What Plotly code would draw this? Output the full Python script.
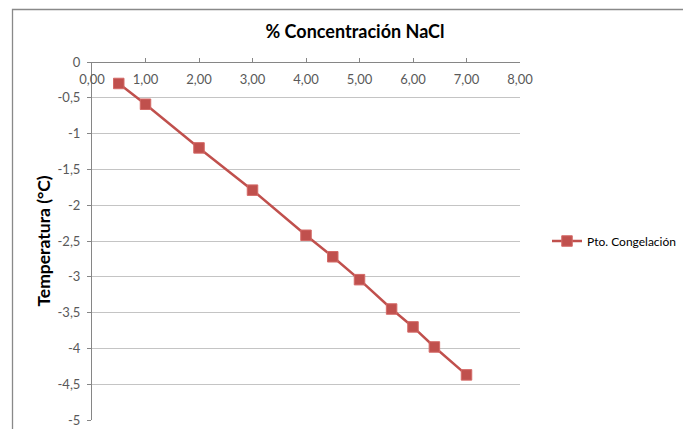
import plotly.graph_objects as go

# Concentración de NaCl (%) y punto de congelación (°C)
concentracion = [0.5, 1.0, 2.0, 3.0, 4.0, 4.5, 5.0, 5.6, 6.0, 6.4, 7.0]
pto_congelacion = [-0.30, -0.59, -1.20, -1.79, -2.42, -2.72, -3.04, -3.45, -3.70, -3.98, -4.37]

x_ticks = [0, 1, 2, 3, 4, 5, 6, 7, 8]
y_ticks = [0, -0.5, -1, -1.5, -2, -2.5, -3, -3.5, -4, -4.5, -5]
y_ticktext = ["0", "-0,5", "-1", "-1,5", "-2", "-2,5", "-3", "-3,5", "-4", "-4,5", "-5"]

ROJO = "#C0504D"
EJE = "#868686"
FONT = "Lato, 'Open Sans', sans-serif"

W, H = 683, 429
L, R, T, B = 92, 163, 62, 9
pw, ph = W - L - R, H - T - B


def px_to_paper(px, py):
    return (px - L) / pw, (H - B - py) / ph


fig = go.Figure()
fig.add_trace(go.Scatter(
    x=concentracion, y=pto_congelacion,
    mode="lines+markers",
    name="Pto. Congelación",
    line=dict(color=ROJO, width=2.5),
    marker=dict(symbol="square", size=10.5, color=ROJO,
                line=dict(color="#D46A67", width=1)),
))

# marco exterior del gráfico (borde superior e izquierdo visibles)
x0, y1 = px_to_paper(12.5, 9.5)
x1, y0 = px_to_paper(720, 460)
fig.add_shape(type="rect", xref="paper", yref="paper",
              x0=x0, x1=x1, y0=y0, y1=y1,
              line=dict(color="#898989", width=1.3), layer="below")

fig.update_layout(
    width=W, height=H,
    margin=dict(l=L, r=R, t=T, b=B, autoexpand=False),
    paper_bgcolor="white", plot_bgcolor="white",
    separators=",.",
    font=dict(family=FONT, color="#404040", size=13),
    title=dict(text="<b>% Concentración NaCl</b>",
               font=dict(family=FONT, size=18, color="#000000"),
               x=px_to_paper(355, 0)[0], xref="paper", xanchor="center",
               y=1 - 32 / H, yanchor="middle"),
    showlegend=True,
    legend=dict(x=px_to_paper(547, 0)[0], y=px_to_paper(0, 241)[1],
                xanchor="left", yanchor="middle",
                font=dict(family=FONT, size=12, color="#000000"),
                bgcolor="rgba(0,0,0,0)", itemwidth=30),
    # eje X cruzando en y = 0 (borde superior), etiquetas debajo de la línea
    xaxis=dict(range=[0, 8], side="bottom", anchor="free", position=1,
               tickvals=x_ticks, tickformat=".2f",
               ticks="inside", ticklen=4, tickcolor=EJE,
               showline=True, linecolor=EJE, linewidth=1,
               showgrid=False, zeroline=False, automargin=False,
               ticklabelstandoff=5,
               tickfont=dict(family=FONT, size=13, color="#595959")),
    yaxis=dict(range=[-5, 0], tickvals=y_ticks, ticktext=y_ticktext,
               ticks="outside", ticklen=4, tickcolor=EJE,
               showline=True, linecolor=EJE, linewidth=1,
               showgrid=True, gridcolor="#C4C4C4", gridwidth=1,
               zeroline=False, automargin=False, ticklabelstandoff=4,
               title=dict(text="<b>Temperatura (°C)</b>",
                          font=dict(family=FONT, size=17.5, color="#000000"),
                          standoff=2),
               tickfont=dict(family=FONT, size=13, color="#595959")),
)

fig.write_html("out.html")
